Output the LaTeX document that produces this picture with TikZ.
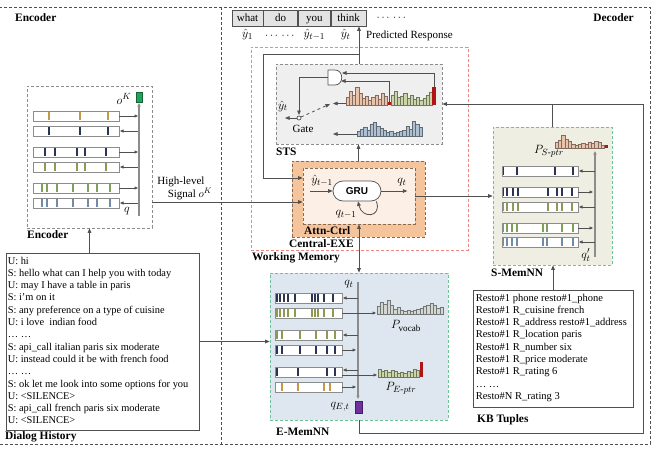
\documentclass[tikz,border=0pt]{standalone}
\usepackage{amsmath}
\usepackage{fontspec}
\setmainfont{Liberation Serif}
\newfontfamily\grufont{Liberation Sans}
\usetikzlibrary{arrows.meta,positioning}

\definecolor{linegray}{HTML}{505050}
\definecolor{memgray}{HTML}{8C8C8C}
\definecolor{redline}{HTML}{EE8888}
\definecolor{orangefill}{HTML}{F4C49C}
\definecolor{peachfill}{HTML}{FCEFE6}
\definecolor{orangeedge}{HTML}{8A6A50}
\definecolor{stsfill}{HTML}{EFEFEF}
\definecolor{sfill}{HTML}{EEEEE2}
\definecolor{efill}{HTML}{DEE7EF}
\definecolor{memedge}{HTML}{6CC39A}
\definecolor{navy}{HTML}{2B3553}
\definecolor{gold}{HTML}{C49A4A}
\definecolor{olive}{HTML}{8C9A52}
\definecolor{leaf}{HTML}{7FA05A}
\definecolor{steel}{HTML}{6F8CAB}
\definecolor{peachbar}{HTML}{E9C2AA}
\definecolor{greenbar}{HTML}{CBD5AA}
\definecolor{bluebar}{HTML}{AEC0D2}
\definecolor{graybar}{HTML}{D3D7D3}
\definecolor{darkred}{HTML}{B01515}
\definecolor{purpleq}{HTML}{7030A0}
\definecolor{greenq}{HTML}{1FA55A}

\tikzset{
  regionbox/.style={draw=linegray, dash pattern=on 3pt off 2pt, line width=0.7pt},
  modbox/.style={draw=memgray, dash pattern=on 3pt off 2pt, line width=0.7pt, inner sep=0pt},
  textbox/.style={draw=linegray, line width=0.8pt, fill=white, inner sep=0pt},
  listtext/.style={align=left, inner sep=0pt, anchor=north west},
  tokbox/.style={draw=linegray, line width=0.7pt, fill=gray!22, minimum height=16pt, inner sep=0pt,
    text height=8pt, text depth=2pt, font=\fontsize{11}{12}\selectfont},
  grubox/.style={draw=linegray, line width=0.7pt, fill=white, rounded corners=10pt, inner sep=0pt,
    font=\grufont\bfseries\fontsize{10}{10}\selectfont},
  lbl/.style={font=\bfseries\fontsize{11.4}{12}\selectfont, inner sep=0pt},
  txt/.style={font=\fontsize{11}{13}\selectfont, inner sep=0pt},
  mathlbl/.style={font=\fontsize{13}{14}\selectfont, inner sep=0pt},
  arr/.style={draw=linegray, line width=0.8pt, -{Triangle[length=4.5pt,width=3.6pt]}},
  arrboth/.style={draw=linegray, line width=0.8pt, {Triangle[length=4.5pt,width=3.6pt]}-{Triangle[length=4.5pt,width=3.6pt]}},
  marr/.style={draw=linegray, line width=0.6pt, -{Triangle[length=3.5pt,width=3pt]}},
  qline/.style={draw=memgray, line width=1.1pt},
  barbox/.style={draw=memgray, line width=0.6pt},
  gateline/.style={draw=linegray, line width=0.7pt}
}

% memory slot: left x, top y, width, stripe colour, stripe positions
\newcommand{\membar}[5]{%
  \fill[white] (#1,#2) rectangle ++(#3,10);
  \foreach \s in {#5}
    \fill[#4] ({\s-1},{#2+0.6}) rectangle ({\s+1},{#2+9.4});
  \draw[barbox] (#1,#2) rectangle ++(#3,10);
}
% distribution: left x, baseline y, bar width, colour, heights
\newcommand{\histo}[5]{%
  \foreach \h [count=\i from 0] in {#5}
    \draw[draw=#4!55!black, fill=#4, line width=0.3pt] ({#1+\i*#3},#2) rectangle ++(#3,-\h);
}

\begin{document}
\begin{tikzpicture}[x=1pt,y=-1pt]
\useasboundingbox (0,0) rectangle (659,450);

% encoder / decoder regions
\draw[regionbox] (-3,7) rectangle (650,444);
\draw[regionbox] (221,7) -- (221,444);
\node[lbl, anchor=west] (enclbl) at (15,18) {Encoder};
\node[lbl, anchor=east] (declbl) at (634,18) {Decoder};

% main boxes
\node[modbox, draw=redline, minimum width=217pt, minimum height=203pt] (wm) at (359.5,148.5) {};
\node[modbox, fill=stsfill, minimum width=166pt, minimum height=80pt] (sts) at (359,104) {};
\node[modbox, draw=orangeedge, fill=orangefill, minimum width=133pt, minimum height=76pt] (cexe) at (358.5,199) {};
\node[modbox, draw=orangeedge, fill=peachfill, minimum width=112pt, minimum height=56pt] (attn) at (359,196) {};
\node[grubox, minimum width=48pt, minimum height=20pt] (gru) at (357,191) {GRU};
\node[modbox, minimum width=125pt, minimum height=142pt] (enc) at (89.5,157) {};
\node[modbox, draw=memedge, fill=sfill, minimum width=119pt, minimum height=138pt] (smem) at (552.5,196) {};
\node[modbox, draw=memedge, fill=efill, minimum width=178pt, minimum height=147pt] (emem) at (359,346.5) {};
\node[textbox, minimum width=193pt, minimum height=177pt] (dialog) at (102.5,341.5) {};
\node[textbox, minimum width=160pt, minimum height=117pt] (kb) at (553,348.5) {};

\node[listtext, font=\fontsize{10.4}{12.3}\selectfont] (dialogtext) at ([xshift=2pt,yshift=-4pt]dialog.north west) {%
U: hi\\
S: hello what can I help you with today\\
U: may I have a table in paris\\
S: i’m on it\\
S: any preference on a type of cuisine\\
U: i love~ indian food\\
… …\\
S: api\_call italian paris six moderate\\
U: instead could it be with french food\\
… …\\
S: ok let me look into some options for you\\
U: <SILENCE>\\
S: api\_call french paris six moderate\\
U: <SILENCE>};
\node[listtext, font=\fontsize{10.5}{12.3}\selectfont] (kbtext) at ([xshift=3pt,yshift=-4pt]kb.north west) {%
Resto\#1 phone resto\#1\_phone\\
Resto\#1 R\_cuisine french\\
Resto\#1 R\_address resto\#1\_address\\
Resto\#1 R\_location paris\\
Resto\#1 R\_number six\\
Resto\#1 R\_price moderate\\
Resto\#1 R\_rating 6\\
… …\\
Resto\#N R\_rating 3};

% box labels
\node[lbl, anchor=west] (enclbl2) at (27,235) {Encoder};
\node[lbl, anchor=west] (dialoglbl) at (5,437) {Dialog History};
\node[lbl, anchor=west] (stslbl) at (276,152) {STS};
\node[lbl, anchor=west] (attnlbl) at (304,231) {Attn-Ctrl};
\node[lbl, anchor=west] (cexelbl) at (289,244) {Central-EXE};
\node[lbl, anchor=west] (wmlbl) at (252,258) {Working Memory};
\node[lbl, anchor=west] (ememlbl) at (276,432) {E-MemNN};
\node[lbl, anchor=west] (smemlbl) at (491,273) {S-MemNN};
\node[lbl, anchor=west] (kblbl) at (477,420) {KB Tuples};

% predicted response
\node[tokbox, minimum width=31pt] (tok1) at (247.5,18) {what};
\node[tokbox, minimum width=34pt, right=0pt of tok1] (tok2) {do};
\node[tokbox, minimum width=32pt, right=0pt of tok2] (tok3) {you};
\node[tokbox, minimum width=35pt, right=0pt of tok3] (tok4) {think};
\node[txt, right=10pt of tok4] (tokmore) {$\cdots\,\cdots$};
\node[mathlbl, below=3pt of tok1] (yh1) {$\hat{y}_1$};
\node[txt, below=7pt of tok2] (yhdots) {$\cdots\,\cdots$};
\node[mathlbl, below=3pt of tok3] (yhprev) {$\hat{y}_{t-1}$};
\node[mathlbl, below=3pt of tok4, xshift=-3pt] (yhnow) {$\hat{y}_t$};
\node[txt, anchor=west] (predlbl) at (366,36) {Predicted Response};

% encoder memory
\membar{33}{111}{86}{gold}{49,80,108}
\membar{33}{126}{86}{navy}{49,80,108}
\membar{33}{147}{86}{navy}{45,55,77,85,106}
\membar{33}{162}{86}{olive}{45,55,77,85,106}
\membar{33}{183}{86}{leaf}{42,47,57,73,88,97,110}
\membar{33}{198}{86}{steel}{42,47,57,73,88,97,110}
\foreach \y in {116,152,188}
  \draw[marr] (119,\y) -- (138,\y);
\foreach \y in {131,167,203}
  \draw[marr] (139,\y) -- (120,\y);
\draw[qline, -{Triangle[length=3.5pt,width=3pt]}] (139,216) -- (139,103);
\draw[fill=greenq, draw=greenq!60!black, line width=0.4pt] (136,92) rectangle (142,102);
\node[mathlbl] (ok) at (124,99) {$o^K$};
\node[mathlbl] (qenc) at (127,211) {$q$};

% encoder to decoder
\coordinate (sigstart) at (152,202);
\draw[arr] (sigstart) -- (sigstart -| attn.west);
\node[txt] (sig1) at (181,182) {High-level};
\node[txt] (sig2) at (190,194) {Signal $o^K$};
\draw[arr] (dialog.north -| enc.south) -- (enc.south);
\draw[arr] (dialog.east) -- (dialog.east -| emem.west);

% STS
\histo{346}{105}{3.2}{peachbar}{8,14,10,18,12,7,9,5,8,10,6,12,9}
\fill[darkred] (387.6,105) rectangle ++(3.2,-3);
\histo{390.8}{105}{3.2}{greenbar}{10,14,8,9,12,7,10,6,8,5,7,10,13}
\fill[darkred] (432.4,105) rectangle ++(3.2,-18);
\histo{357}{136}{3.25}{bluebar}{5,7,9,6,12,14,10,8,6,4,5,3,4,5,6,10,7,15,12,9}
\draw[gateline, fill=white] (328,70) -- (335,70) .. controls (344,70) and (344,85) .. (335,85) -- (328,85) -- cycle;
\coordinate (gatetop) at (342,73);
\coordinate (gatebot) at (341,81);
\coordinate (gateout) at (328,77);
\coordinate (sw) at (299,118);
\draw[arr] (434,87) |- (gatetop);
\draw[arr] (389.2,102) |- (gatebot);
\draw[arr] (gateout) -| ([yshift=3pt]sw);
\draw[gateline, fill=white] (sw) circle[radius=2pt];
\draw[arr] ([xshift=-2pt]sw) -- ([xshift=-14pt]sw);
\draw[arr, dashed] ([xshift=2pt,yshift=1pt]sw) -- (330,104);
\draw[arr] (346,103.5) -- (333,103.5);
\draw[arr] (357,134) -- (333,134);
\node[mathlbl] (yt) at (283,106) {$\hat{y}_t$};
\node[txt] (gatelbl) at (303,129) {Gate};

% central executive
\node[mathlbl] (yin) at (322,181) {$\hat{y}_{t-1}$};
\draw[arr] ([xshift=-23pt]gru.west) -- (gru.west);
\draw[arr] (gru.east) -- ([xshift=26pt]gru.east);
\node[mathlbl] (qt) at (402,182) {$q_t$};
\node[mathlbl] (qprev) at (346,214) {$q_{t-1}$};
\draw[arr] ([xshift=-5pt]gru.south east) .. controls +(6,16) and +(4,18) .. ([xshift=1pt]gru.south);

% working memory connectors
\coordinate (fbtop) at (359,54);
\coordinate (fbleft) at (263,54);
\coordinate (fbin) at (263,178);
\draw[arr] (sts.north) -- (sts.north |- tok4.south);
\draw[arr] (fbtop) -- (fbleft) -- (fbin) -- (fbin -| attn.west);
\draw[arr] (cexe.north) -- (cexe.north |- sts.south);
\draw[arrboth] (attn.south) -- (emem.north);
\draw[arr] (attn.east) -- (smem.west);
\draw[arr] (kb.north) -- (kb.north |- smem.south);
\draw[draw=linegray, line width=0.8pt] (smem.north) -- (smem.north |- sts.east);
\coordinate (loopcorner) at (643,433);
\draw[arr] (emem.south) |- (loopcorner) |- (sts.east);

% E-MemNN
\membar{275}{293}{67}{navy}{277,280,284,288,295,312,315,318,324,333}
\membar{275}{308}{67}{olive}{277,280,284,288,295,312,315,318,324,333}
\membar{275}{330}{67}{olive}{277,282,300,316,327,335}
\membar{275}{345}{67}{navy}{277,282,300,316,327,335}
\membar{275}{367}{67}{navy}{277,298,327,335}
\membar{275}{382}{67}{gold}{282,298,324,330}
\draw[qline, -{Triangle[length=3.5pt,width=3pt]}] (358,282) -- (358,399);
\draw[fill=purpleq, draw=purpleq!60!black, line width=0.4pt] (355,401) rectangle (362,413);
\foreach \y in {298,335,370}
  \draw[marr] (358,\y) -- (343,\y);
\foreach \y in {350,387}
  \draw[marr] (342,\y) -- (356,\y);
\draw[marr] (342,313) -- (376,313);
\draw[marr] (342,375) -- (377,375);
\histo{377}{314}{3.3}{graybar}{8,12,10,14,9,5,7,4,3,4,3,4,5,6,8,9,11,9,6,7}
\histo{378}{377}{3.2}{greenbar}{8,6,7,5,7,6,4,5,4,6,5,8,7}
\fill[darkred] (419.6,377) rectangle ++(3.2,-15);
\node[mathlbl] (qte) at (349,284) {$q_t$};
\node[mathlbl] (qet) at (340,407) {$q_{E,t}$};
\node[mathlbl] (pvocab) at (406,326) {$P_{\mathrm{vocab}}$};
\node[mathlbl] (peptr) at (401,388) {$P_{E\text{-}ptr}$};

% S-MemNN
\membar{502}{166}{76}{navy}{503,517,555,573}
\membar{502}{187}{76}{navy}{503,507,513,518,548,557,562,572}
\membar{502}{202}{76}{olive}{503,507,513,518,548,557,562,572}
\membar{502}{223}{76}{leaf}{503,507,512,517,543,547,562,573}
\membar{502}{237}{76}{steel}{503,507,512,517,543,547,562,573}
\draw[qline, -{Triangle[length=3.5pt,width=3pt]}] (595,257) -- (595,151);
\foreach \y in {171,207,242}
  \draw[marr] (595,\y) -- (579,\y);
\foreach \y in {192,228}
  \draw[marr] (578,\y) -- (593,\y);
\histo{555}{148}{3.3}{peachbar}{6,8,13,9,7,4,3,4,5,4,6,5,7,6,3}
\fill[darkred] (604.5,148) rectangle ++(3.3,-3);
\node[mathlbl] (psptr) at (549,151) {$P_{S\text{-}ptr}$};
\node[mathlbl] (qps) at (586,255) {$q'_t$};
\end{tikzpicture}
\end{document}
